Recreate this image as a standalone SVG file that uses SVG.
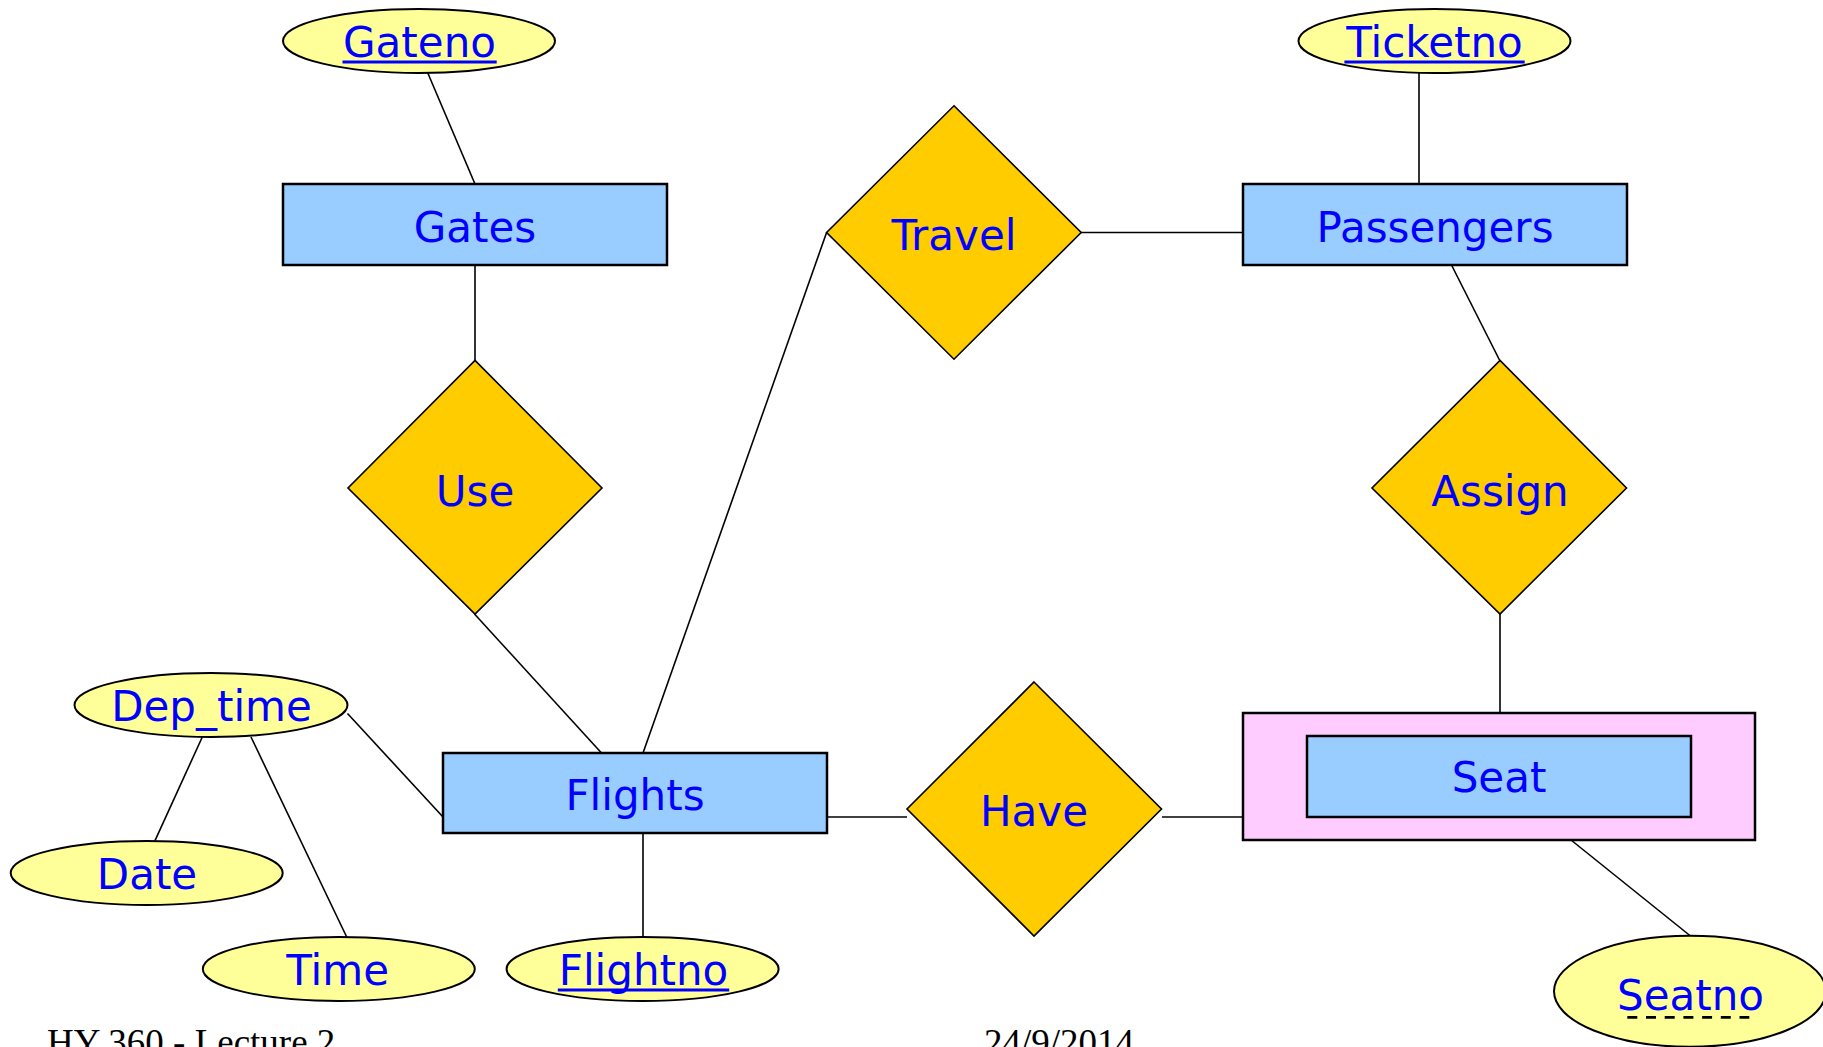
<svg xmlns="http://www.w3.org/2000/svg" width="1823" height="1047" viewBox="0 0 1823 1047">
<style>
.ent{fill:#99CCFF;stroke:#000;stroke-width:2.5}
.weak{fill:#FFCCFF;stroke:#000;stroke-width:2.5}
.rel{fill:#FFCC00;stroke:#000;stroke-width:1.6}
.att{fill:#FFFF99;stroke:#000;stroke-width:2}
.lbl{font-family:"DejaVu Sans",Verdana,sans-serif;font-size:42px;fill:#0000FF;text-anchor:middle}
.ul{stroke:#0000FF;stroke-width:2.8}
.conn line{stroke:#000;stroke-width:1.6}
.foot{font-family:"Liberation Serif","Times New Roman",serif;font-size:37px;fill:#000}
</style>
<rect width="1823" height="1047" fill="#fff"/>
<g class="conn" id="connectors">
<line x1="427.8" y1="73" x2="475" y2="184"/>
<line x1="475" y1="265" x2="475" y2="360"/>
<line x1="474.5" y1="614" x2="601.5" y2="753"/>
<line x1="826.6" y1="232.5" x2="643" y2="753"/>
<line x1="1081" y1="232.5" x2="1243" y2="232.5"/>
<line x1="1419" y1="73" x2="1419" y2="184"/>
<line x1="1451.5" y1="265" x2="1499.5" y2="360"/>
<line x1="1500" y1="614" x2="1500" y2="713"/>
<line x1="827" y1="817" x2="907" y2="817"/>
<line x1="1162" y1="817" x2="1243" y2="817"/>
<line x1="1571" y1="840" x2="1690.5" y2="936"/>
<line x1="347.5" y1="713.5" x2="443" y2="817"/>
<line x1="202.3" y1="737" x2="155" y2="840.6"/>
<line x1="251" y1="737" x2="346.7" y2="937"/>
<line x1="643" y1="833" x2="643" y2="937"/>
</g>
<g id="gateno"><ellipse class="att" cx="419" cy="41" rx="136" ry="32"/><text class="lbl" x="419.5" y="57">Gateno</text><line class="ul" x1="342.5" y1="62" x2="496.7" y2="62"/></g>
<g id="gates"><rect class="ent" x="283" y="184" width="384" height="81"/><text class="lbl" x="475" y="241.5">Gates</text></g>
<g id="use"><polygon class="rel" points="475,360.4 602,488 475,614 348,488"/><text class="lbl" x="475" y="505.5">Use</text></g>
<g id="travel"><polygon class="rel" points="954,105.8 1081.2,232.5 954,359.2 826.6,232.5"/><text class="lbl" x="954" y="250">Travel</text></g>
<g id="ticketno"><ellipse class="att" cx="1434.5" cy="41" rx="136" ry="32"/><text class="lbl" x="1434.5" y="57">Ticketno</text><line class="ul" x1="1344.4" y1="62" x2="1524.7" y2="62"/></g>
<g id="passengers"><rect class="ent" x="1243" y="184" width="384" height="81"/><text class="lbl" x="1435" y="241.5">Passengers</text></g>
<g id="assign"><polygon class="rel" points="1500,360.4 1626.5,488 1500,614 1372,488"/><text class="lbl" x="1500" y="505.5">Assign</text></g>
<g id="seat"><rect class="weak" x="1243" y="713" width="512" height="127"/><rect class="ent" x="1307" y="736" width="384" height="81"/><text class="lbl" x="1499" y="792">Seat</text></g>
<g id="have"><polygon class="rel" points="1034,682 1161.5,809 1034,936 907,809"/><text class="lbl" x="1034" y="826">Have</text></g>
<g id="flights"><rect class="ent" x="443" y="753" width="384" height="80"/><text class="lbl" x="635" y="810">Flights</text></g>
<g id="dep_time"><ellipse class="att" cx="211" cy="705" rx="136.5" ry="32"/><text class="lbl" x="211.5" y="721">Dep_time</text></g>
<g id="date"><ellipse class="att" cx="146.7" cy="873" rx="136" ry="32"/><text class="lbl" x="147" y="889">Date</text></g>
<g id="time"><ellipse class="att" cx="338.8" cy="969" rx="136" ry="32"/><text class="lbl" x="337.6" y="985">Time</text></g>
<g id="flightno"><ellipse class="att" cx="642.6" cy="969" rx="136" ry="32"/><text class="lbl" x="643.5" y="985">Flightno</text><line class="ul" x1="557.8" y1="990" x2="729.2" y2="990"/></g>
<g id="seatno"><ellipse class="att" cx="1690" cy="991.3" rx="136" ry="55.5"/><text class="lbl" x="1690.5" y="1010">Seatno</text><line x1="1627.3" y1="1017.3" x2="1749.3" y2="1017.3" stroke="#000" stroke-width="2.8" stroke-dasharray="10 8.7"/></g>
<text class="foot" x="47" y="1054.5">HY 360 - Lecture 2</text>
<text class="foot" x="984" y="1054.5">24/9/2014</text>
</svg>
